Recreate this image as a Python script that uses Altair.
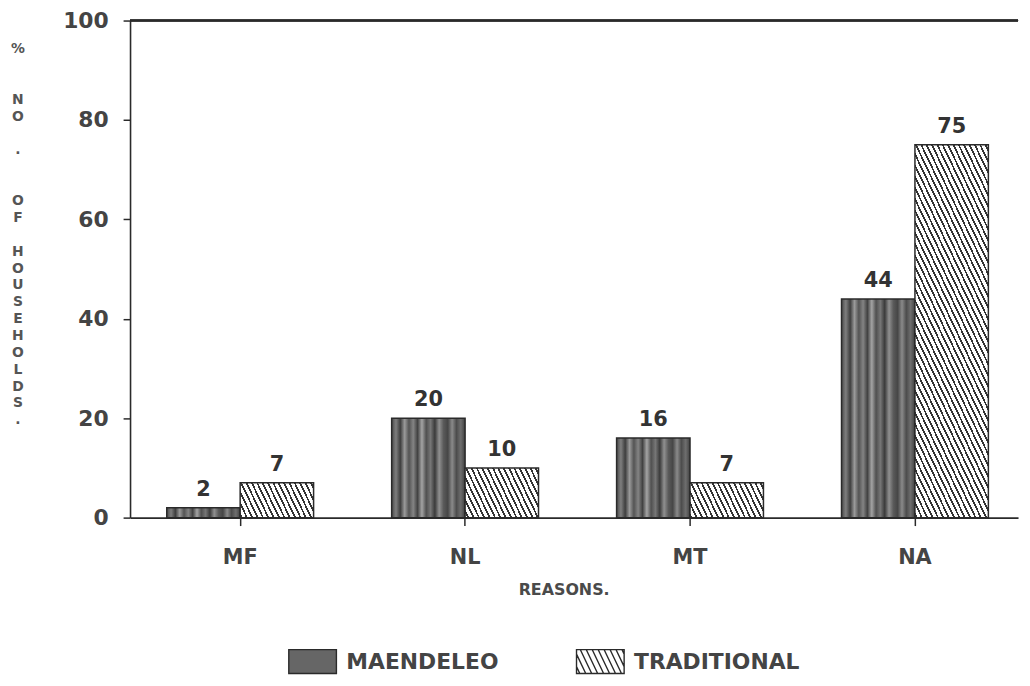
import altair as alt
import pandas as pd

# ---------------- data ----------------
reasons = ["MF", "NL", "MT", "NA"]
maendeleo = [2, 20, 16, 44]
traditional = [7, 10, 7, 75]
series_names = ["MAENDELEO", "TRADITIONAL"]
y_ticks = [0, 20, 40, 60, 80, 100]
# vertical y-axis title, one character per line ("" = empty line)
y_title = ["%", "", "", "N", "O", "", ".", "", "", "O", "F", "",
           "H", "O", "U", "S", "E", "H", "O", "L", "D", "S", "."]
x_title = "REASONS."

rows = []
for r, m, t in zip(reasons, maendeleo, traditional):
    rows.append({"reason": r, "series": series_names[0], "value": m})
    rows.append({"reason": r, "series": series_names[1], "value": t})
df = pd.DataFrame(rows)

title_df = pd.DataFrame([{"line": i, "ch": c} for i, c in enumerate(y_title) if c])

# ---------------- layout / style ----------------
FONT = "DejaVu Sans"
INK = "#2a2a2a"
TXT = "#444444"
PLOT_W = 895
PLOT_H = 501
STEP = 226.7
BAR_W = 74
PAD_INNER = 1 - 2 * BAR_W / STEP
PAD_OUTER = (PLOT_W / STEP - len(reasons) + PAD_INNER) / 2
ALIGN = 37 / (PLOT_W - (3 * STEP + 2 * BAR_W))
TITLE_TOP = 29       # first title line centre, px below plot top
TITLE_LH = 17        # title line height, px
TITLE_X = -113       # title centre, px left of the plot

SLOPE = 2.1      # hatch steepness (dy/dx)
PERIOD = 5.4     # horizontal hatch period in px
LINE_W = 1.9     # horizontal hatch thickness in px
HATCH_INK = "#333333"


def hatch_gradient(w, h):
    hk = h / SLOPE
    F = w + hk
    c = (w + hk) / (w * w + hk * hk)
    stops = [{"offset": 0, "color": "#ffffff"}]
    m = int(-hk // PERIOD) - 1
    while m * PERIOD < w:
        a = (m * PERIOD + hk) / F
        b = (m * PERIOD + LINE_W + hk) / F
        a = min(max(a, 0.0), 1.0)
        b = min(max(b, 0.0), 1.0)
        if b > a:
            stops += [{"offset": round(a, 5), "color": "#ffffff"},
                      {"offset": round(a, 5), "color": HATCH_INK},
                      {"offset": round(b, 5), "color": HATCH_INK},
                      {"offset": round(b, 5), "color": "#ffffff"}]
        m += 1
    stops.append({"offset": 1, "color": "#ffffff"})
    return {"gradient": "linear", "x1": 0, "y1": 1,
            "x2": round(c * w, 6), "y2": round(1 - c * hk, 6), "stops": stops}


mottle_shades = ["#4a4a4a", "#7e7e7e", "#3e3e3e", "#9a9a9a", "#545454", "#848484",
                 "#424242", "#a4a4a4", "#505050", "#767676", "#3b3b3b", "#909090",
                 "#5a5a5a", "#464646", "#8a8a8a", "#4c4c4c", "#6e6e6e", "#404040"]
mottle = {"gradient": "linear", "x1": 0, "y1": 0, "x2": 1, "y2": 0,
          "stops": [{"offset": round(i / (len(mottle_shades) - 1), 4), "color": c}
                    for i, c in enumerate(mottle_shades)]}

fill_conditions = [{"test": "datum.series === 'MAENDELEO'", "value": mottle}]
for r, t in zip(reasons, traditional):
    fill_conditions.append({
        "test": f"datum.series === 'TRADITIONAL' && datum.reason === '{r}'",
        "value": hatch_gradient(BAR_W, t / 100 * PLOT_H)})


def hatch_symbol():
    parts = ["M-1,-0.5H1V0.5H-1Z"]
    k = SLOPE
    p = 6.0 / 24.0
    cval = -1.6
    while cval < 1.3:
        y0 = max(-0.5, k * (-1 - cval))
        y1 = min(0.5, k * (1 - cval))
        if y1 > y0:
            parts.append(f"M{cval + y0 / k:.3f},{y0:.3f}L{cval + y1 / k:.3f},{y1:.3f}")
        cval += p
    return "".join(parts)


shape_paths = ["M-1,-0.5H1V0.5H-1Z", hatch_symbol()]

x_enc = alt.X("reason:N", sort=reasons,
              scale=alt.Scale(paddingInner=PAD_INNER, paddingOuter=PAD_OUTER, align=ALIGN),
              axis=alt.Axis(title=x_title, labelAngle=0, labelFontSize=21, labelColor=TXT,
                            labelFontWeight="bold",
                            labelPadding=21, tickSize=8, tickWidth=1.5, tickColor=INK,
                            domainColor=INK, domainWidth=1.6,
                            titleFontSize=16, titleFontWeight="bold", titleColor="#4a4a4a",
                            titleX=437, titleY=72, titleBaseline="middle"))
xoff_enc = alt.XOffset("series:N", sort=series_names)
y_scale = alt.Scale(domain=[0, 100], nice=False)
y_enc = alt.Y("value:Q", scale=y_scale,
              axis=alt.Axis(values=y_ticks, grid=False, title=None,
                            labelFontSize=22, labelColor=TXT, labelFontWeight="bold",
                            labelPadding=15,
                            tickSize=7, tickWidth=1.5, tickColor=INK,
                            domainColor=INK, domainWidth=1.6))

legend = alt.Legend(title=None, orient="none", legendX=159, legendY=621,
                    direction="horizontal", labelFontSize=22, labelColor=TXT,
                    labelFontWeight="bold", labelLimit=400,
                    labelOffset=9, columnPadding=75, symbolSize=2304,
                    symbolStrokeWidth=1.4, symbolOpacity=1, labelFont=FONT)

fill_enc = {"field": "series", "type": "nominal",
            "scale": {"domain": series_names, "range": ["#666666", "#ffffff"]},
            "legend": legend.to_dict(), "condition": fill_conditions}
stroke_enc = alt.Stroke("series:N", scale=alt.Scale(domain=series_names, range=[INK, INK]),
                        legend=legend)
shape_enc = alt.Shape("series:N", scale=alt.Scale(domain=series_names, range=shape_paths),
                      legend=legend)

bars = alt.Chart(df).mark_bar(strokeWidth=1.5).encode(
    x=x_enc, xOffset=xoff_enc, y=y_enc, fill=fill_enc, stroke=stroke_enc)

legend_pts = alt.Chart(df).mark_point(filled=True, opacity=0).encode(
    x=x_enc, xOffset=xoff_enc, y=y_enc,
    fill=alt.Fill("series:N", scale=alt.Scale(domain=series_names, range=["#666666", "#ffffff"]),
                  legend=legend),
    stroke=stroke_enc, shape=shape_enc)

labels = alt.Chart(df).mark_text(baseline="bottom", dy=-8, fontSize=21, color="#333333",
                                 fontWeight="bold", font=FONT).encode(
    x=x_enc, xOffset=xoff_enc, y=y_enc, text=alt.Text("value:Q"))

frame_top = alt.Chart(df).mark_rule(color=INK, strokeWidth=1.6).encode(
    y=alt.YDatum(100, scale=y_scale))

main = alt.layer(bars, legend_pts, labels, frame_top)

n_lines = len(y_title)
y_title_layer = alt.Chart(title_df).mark_text(
    fontSize=14, fontWeight="bold", color="#555555", font=FONT,
    align="center", baseline="middle").encode(
    x=alt.value(TITLE_X),
    y=alt.Y("line:Q", axis=None,
            scale=alt.Scale(domain=[0, n_lines - 1],
                            range=[TITLE_TOP, TITLE_TOP + TITLE_LH * (n_lines - 1)])),
    text="ch:N")

chart = alt.layer(main, y_title_layer).resolve_scale(y="independent").properties(
    width=PLOT_W, height=PLOT_H,
    autosize=alt.AutoSizeParams(type="none"),
    padding={"left": 123, "top": 10, "right": 4, "bottom": 159},
).configure(font=FONT).configure_view(strokeWidth=0)

chart.save("out.html", embed_options={"renderer": "svg", "actions": False})
